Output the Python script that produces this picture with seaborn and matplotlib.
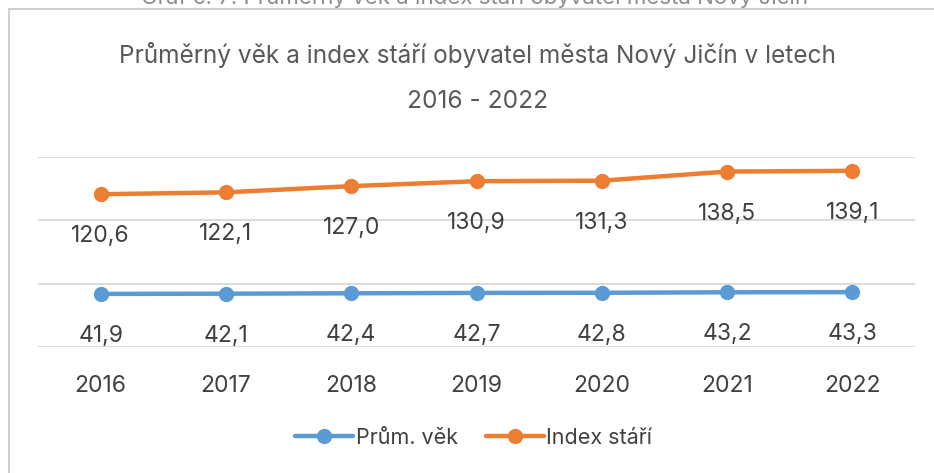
import matplotlib
matplotlib.use("Agg")
import matplotlib.pyplot as plt
import pandas as pd
import seaborn as sns

roky = ["2016", "2017", "2018", "2019", "2020", "2021", "2022"]
prum_vek = [41.9, 42.1, 42.4, 42.7, 42.8, 43.2, 43.3]
index_stari = [120.6, 122.1, 127.0, 130.9, 131.3, 138.5, 139.1]

MODRA = "#5B9BD5"
ORANZ = "#ED7D31"
TEXT = "#404040"

sns.set_theme(style="white")
plt.rcParams["font.family"] = ["Inter", "DejaVu Sans"]

df = pd.DataFrame({"rok": roky, "Prům. věk": prum_vek, "Index stáří": index_stari})
long = df.melt(id_vars="rok", var_name="serie", value_name="hodnota")

fig = plt.figure(figsize=(9.34, 4.73), dpi=100)
ax = fig.add_axes([38 / 934, 1 - 347 / 473, 877 / 934, 190 / 473])

sns.lineplot(data=long, x="rok", y="hodnota", hue="serie",
             palette={"Prům. věk": MODRA, "Index stáří": ORANZ},
             marker="o", markersize=11, markeredgewidth=0, linewidth=3.2,
             ax=ax, legend=False)

ax.set_xlim(-0.5, len(roky) - 0.5)
ax.set_ylim(0, 150)
ax.set_yticks([0, 50, 100, 150])
ax.set_yticklabels([])
ax.tick_params(axis="y", length=0)
ax.tick_params(axis="x", length=0, pad=20, labelsize=16.5, labelcolor=TEXT)
ax.grid(axis="y", color="#d9d9d9", linewidth=1.3)
ax.set_axisbelow(True)
for s in ax.spines.values():
    s.set_visible(False)
ax.set_xlabel("")
ax.set_ylabel("")

for i, (a, b) in enumerate(zip(prum_vek, index_stari)):
    ax.annotate(f"{a:.1f}".replace(".", ","), (i, a), xytext=(0, -42),
                textcoords="offset pixels", ha="center", va="center",
                fontsize=16.5, color=TEXT)
    ax.annotate(f"{b:.1f}".replace(".", ","), (i, b), xytext=(0, -42),
                textcoords="offset pixels", ha="center", va="center",
                fontsize=16.5, color=TEXT)

fig.text(477 / 934, 1 - 55 / 473, "Průměrný věk a index stáří obyvatel města Nový Jičín v letech",
         ha="center", va="center", fontsize=17.6, color="#595959")
fig.text(478 / 934, 1 - 102 / 473, "2016 - 2022",
         ha="center", va="center", fontsize=17.6, color="#595959")
fig.text(475 / 934, 1 + 3 / 473, "Graf č. 7: Průměrný věk a index stáří obyvatel města Nový Jičín",
         ha="center", va="center", fontsize=16, color="#8c8c8c")

# rámeček grafu
fig.add_artist(plt.Line2D([9 / 934, 1], [1 - 9 / 473, 1 - 9 / 473],
                          transform=fig.transFigure, color="#d0d0d0", linewidth=1.5))
fig.add_artist(plt.Line2D([9 / 934, 9 / 934], [0, 1 - 9 / 473],
                          transform=fig.transFigure, color="#d0d0d0", linewidth=1.5))

h1 = plt.Line2D([], [], color=MODRA, marker="o", markersize=11, markeredgewidth=0, linewidth=3.2)
h2 = plt.Line2D([], [], color=ORANZ, marker="o", markersize=11, markeredgewidth=0, linewidth=3.2)
fig.legend([h1, h2], ["Prům. věk", "Index stáří"], loc="center",
           bbox_to_anchor=(0.507, 1 - 438 / 473), ncol=2, frameon=False,
           fontsize=15.5, labelcolor=TEXT, handlelength=2.7, handletextpad=0.1,
           columnspacing=1.3)

fig.savefig("out.png", dpi=100)
